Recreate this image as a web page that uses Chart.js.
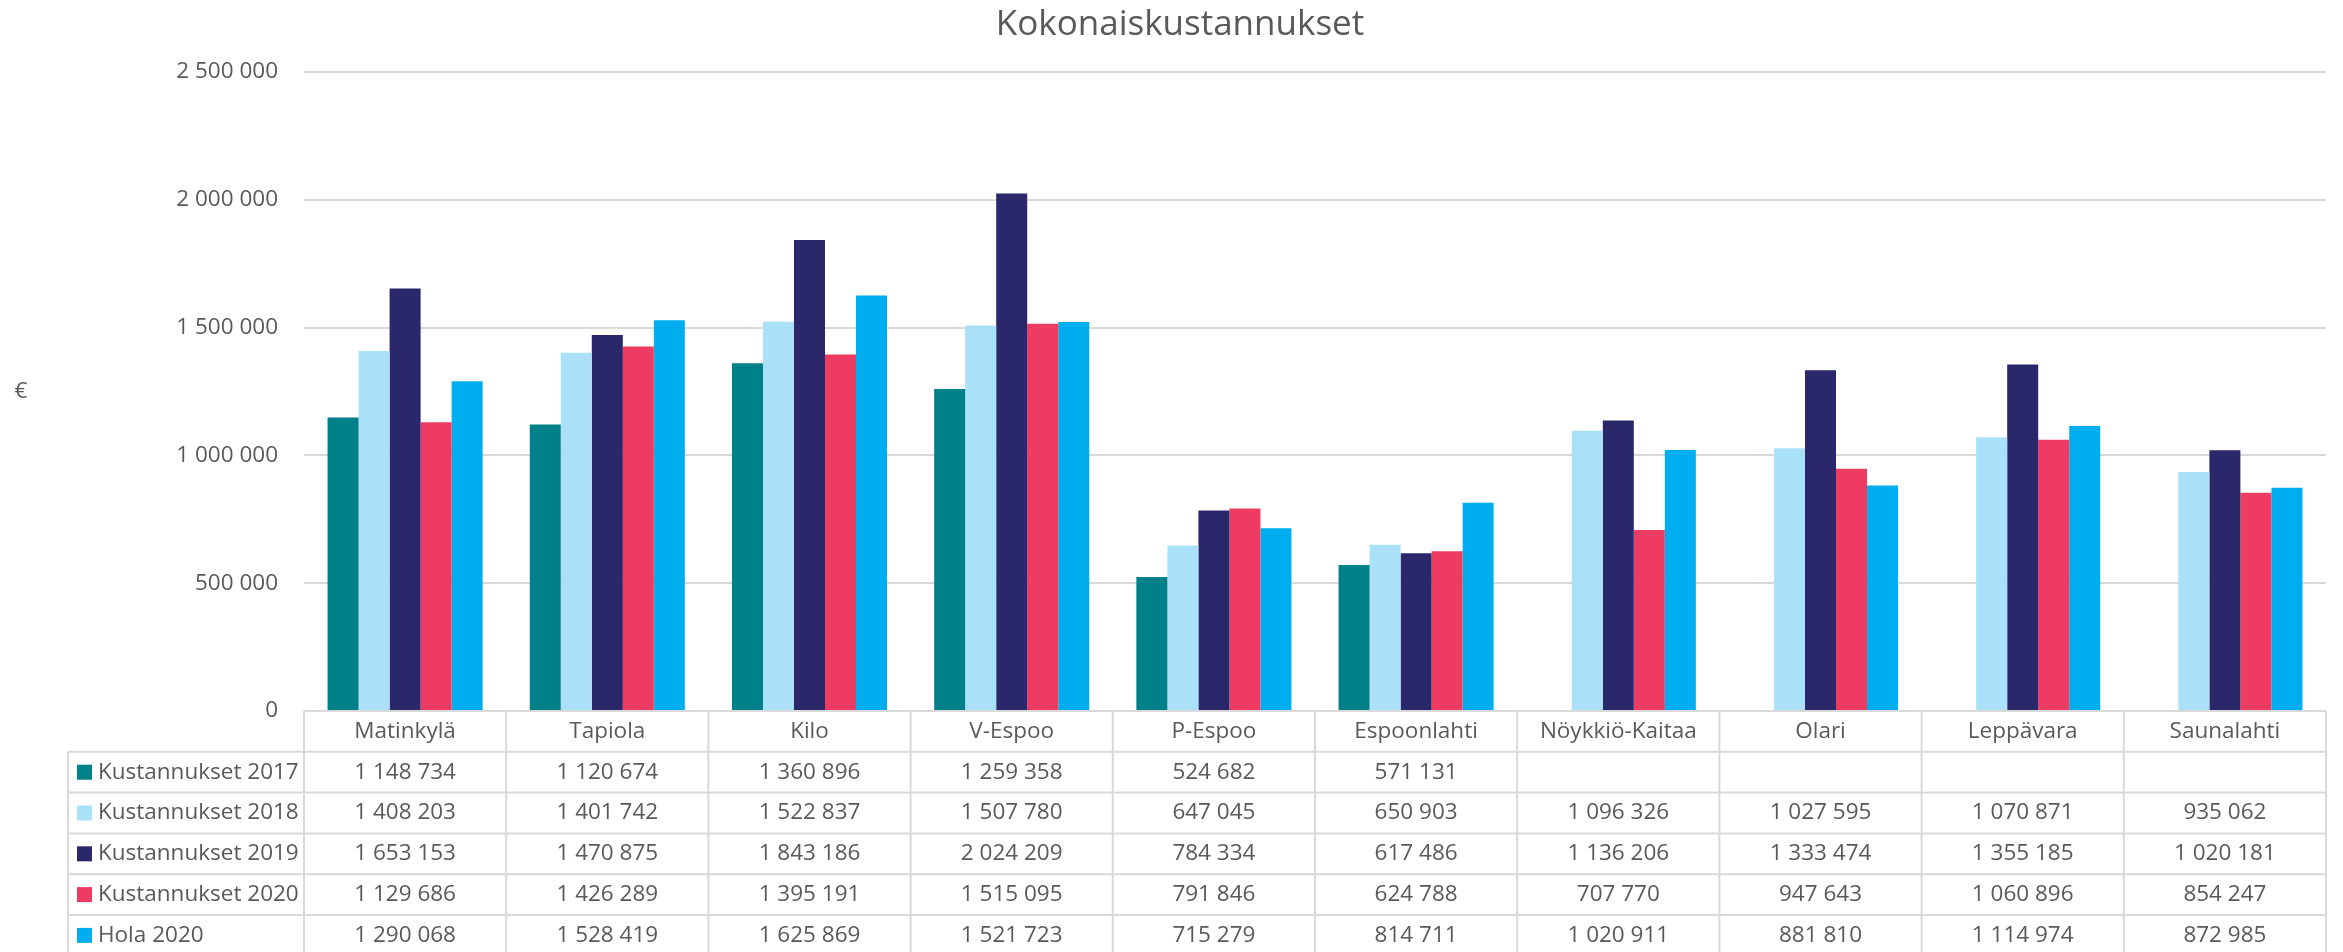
<!DOCTYPE html>
<html>
<head>
<meta charset="utf-8">
<script src="https://cdn.jsdelivr.net/npm/chart.js@4"></script>
<style>
  html, body { margin: 0; padding: 0; background: #fff; }
  canvas { display: block; }
</style>
</head>
<body>
<canvas id="costChart" width="2343" height="952"></canvas>
<script>
const categories = ["Matinkylä", "Tapiola", "Kilo", "V-Espoo", "P-Espoo", "Espoonlahti", "Nöykkiö-Kaitaa", "Olari", "Leppävara", "Saunalahti"];
const seriesNames = ["Kustannukset 2017", "Kustannukset 2018", "Kustannukset 2019", "Kustannukset 2020", "Hola 2020"];
const costs2017 = [1148734, 1120674, 1360896, 1259358, 524682, 571131, null, null, null, null];
const costs2018 = [1408203, 1401742, 1522837, 1507780, 647045, 650903, 1096326, 1027595, 1070871, 935062];
const costs2019 = [1653153, 1470875, 1843186, 2024209, 784334, 617486, 1136206, 1333474, 1355185, 1020181];
const costs2020 = [1129686, 1426289, 1395191, 1515095, 791846, 624788, 707770, 947643, 1060896, 854247];
const hola2020 = [1290068, 1528419, 1625869, 1521723, 715279, 814711, 1020911, 881810, 1114974, 872985];
const seriesColors = ["#00818A", "#ABE0F9", "#2B276B", "#EE3B61", "#00AEEF"];
const yMin = 0, yMax = 2500000, yStep = 500000;

const textColor = "#595959";
const lineColor = "#D9D9D9";
const fontFamily = "'Open Sans', 'Noto Sans', sans-serif";

function fmt(v) {
    return String(v).replace(/\B(?=(\d{3})+(?!\d))/g, " ");
}

const allSeries = [costs2017, costs2018, costs2019, costs2020, hola2020];

// Data table under the plot, plus the upright € label
const tablePlugin = {
    id: "dataTable",
    afterDraw(chart) {
        const ctx = chart.ctx;
        const area = chart.chartArea;
        const x = chart.scales.x;
        const rowH = 40.8;
        const top = area.bottom;
        const half = (x.getPixelForValue(1) - x.getPixelForValue(0)) / 2;
        const legendLeft = 68;
        const nRows = allSeries.length;

        ctx.save();
        ctx.strokeStyle = lineColor;
        ctx.lineWidth = 2;
        ctx.beginPath();
        // horizontal lines
        ctx.moveTo(area.left, top);
        ctx.lineTo(area.right, top);
        for (let r = 1; r <= nRows + 1; r++) {
            ctx.moveTo(legendLeft, top + r * rowH);
            ctx.lineTo(area.right, top + r * rowH);
        }
        // vertical lines
        const bottom = top + (nRows + 1) * rowH;
        ctx.moveTo(legendLeft, top + rowH);
        ctx.lineTo(legendLeft, bottom);
        categories.forEach((c, i) => {
            const lx = x.getPixelForValue(i) - half;
            ctx.moveTo(lx, top);
            ctx.lineTo(lx, bottom);
        });
        ctx.moveTo(area.right, top);
        ctx.lineTo(area.right, bottom);
        ctx.stroke();

        ctx.fillStyle = textColor;
        ctx.font = "22.5px " + fontFamily;
        ctx.textBaseline = "middle";
        ctx.textAlign = "center";
        categories.forEach((c, i) => {
            const cx = x.getPixelForValue(i);
            ctx.fillText(c, cx, top + rowH / 2);
            allSeries.forEach((s, r) => {
                if (s[i] !== null) ctx.fillText(fmt(s[i]), cx, top + rowH * (r + 1) + rowH / 2);
            });
        });

        ctx.textAlign = "left";
        seriesNames.forEach((name, r) => {
            const cy = top + rowH * (r + 1) + rowH / 2;
            ctx.fillStyle = seriesColors[r];
            ctx.fillRect(77, cy - 7.5, 15, 15);
            ctx.fillStyle = textColor;
            ctx.fillText(name, 98, cy);
        });

        ctx.textAlign = "center";
        ctx.fillText("€", 21, (area.top + area.bottom) / 2);
        ctx.restore();
    }
};

const ctx = document.getElementById("costChart").getContext("2d");
const costChart = new Chart(ctx, {
    type: "bar",
    data: {
        labels: categories,
        datasets: seriesNames.map((name, i) => ({
            label: name,
            data: allSeries[i],
            backgroundColor: seriesColors[i],
            borderWidth: 0,
            categoryPercentage: 0.767,
            barPercentage: 1.0
        }))
    },
    options: {
        responsive: false,
        animation: false,
        devicePixelRatio: 1,
        layout: { padding: { left: 34, right: 17, top: 0, bottom: 1 } },
        plugins: {
            legend: { display: false },
            tooltip: { enabled: false },
            title: {
                display: true,
                text: "Kokonaiskustannukset",
                color: textColor,
                font: { family: fontFamily, size: 35, weight: "normal" },
                padding: { top: 4, bottom: 26 }
            }
        },
        scales: {
            x: {
                grid: { display: false },
                border: { display: false },
                ticks: { display: false },
                afterFit(scale) { scale.height = 240; }
            },
            y: {
                min: yMin,
                max: yMax,
                ticks: {
                    stepSize: yStep,
                    color: textColor,
                    padding: 26,
                    font: { family: fontFamily, size: 22.5 },
                    callback: v => fmt(v)
                },
                grid: { color: lineColor, lineWidth: 2, drawTicks: false },
                border: { display: false },
                afterFit(scale) { scale.width = 270; }
            }
        }
    },
    plugins: [tablePlugin]
});
</script>
</body>
</html>
